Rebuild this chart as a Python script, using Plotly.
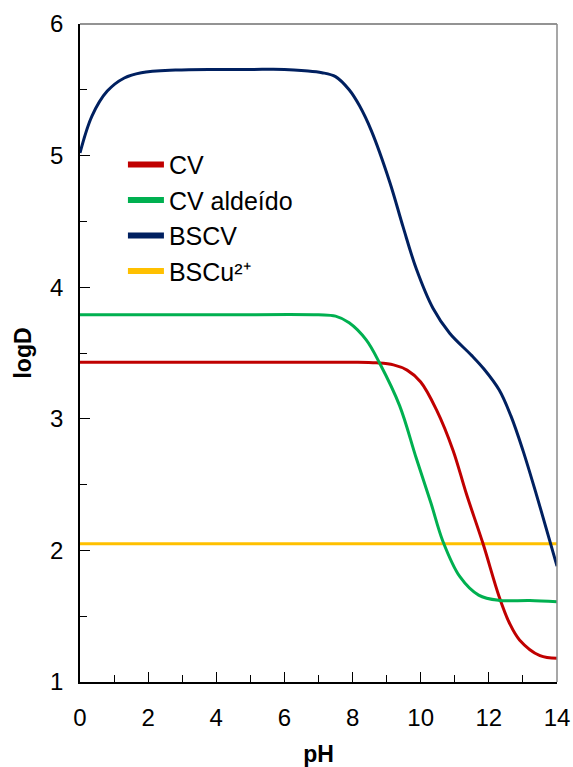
import plotly.graph_objects as go

# ---- data ----
ph_bscv = [0, 0.35, 0.8, 1.3, 1.8, 2.8, 4, 5, 6, 6.6, 7.1, 7.5, 7.9, 8.2, 8.55, 9.09, 9.48, 9.87, 10.36, 10.85, 11.5, 11.85, 12.3, 12.65, 13, 13.4, 13.78, 14]
logd_bscv = [5.02, 5.30, 5.49, 5.59, 5.63, 5.65, 5.655, 5.655, 5.655, 5.645, 5.63, 5.60, 5.50, 5.38, 5.19, 4.80, 4.46, 4.14, 3.84, 3.65, 3.48, 3.38, 3.22, 3.02, 2.76, 2.42, 2.08, 1.88]

ph_cv = [0, 4, 8, 8.7, 9.2, 9.6, 10, 10.46, 10.95, 11.34, 11.83, 12.3, 12.6, 12.9, 13.5, 14]
logd_cv = [3.43, 3.43, 3.43, 3.425, 3.41, 3.37, 3.28, 3.07, 2.76, 2.43, 2.05, 1.65, 1.45, 1.32, 1.20, 1.18]

ph_ald = [0, 4, 7, 7.5, 7.9, 8.4, 8.8, 9.38, 9.87, 10.3, 10.65, 11.15, 11.7, 12.3, 13.2, 14]
logd_ald = [3.79, 3.79, 3.79, 3.78, 3.73, 3.60, 3.42, 3.10, 2.70, 2.36, 2.07, 1.80, 1.66, 1.62, 1.62, 1.61]

ph_cu = [0, 14]
logd_cu = [2.05, 2.05]

names = ["CV", "CV aldeído", "BSCV", "BSCu²⁺"]
colors = ["#C00000", "#00B050", "#002060", "#FFC000"]

FONT = "Liberation Sans, Arial, sans-serif"

fig = go.Figure()
series = [(ph_cv, logd_cv), (ph_ald, logd_ald), (ph_bscv, logd_bscv), (ph_cu, logd_cu)]
draw_order = [3, 0, 1, 2]
for i in draw_order:
    x, y = series[i]
    fig.add_trace(go.Scatter(x=x, y=y, mode="lines", showlegend=False,
                             line=dict(color=colors[i], width=3, shape="spline", smoothing=1.0)))
# legend entries
for i, n in enumerate(names):
    fig.add_trace(go.Scatter(x=[None], y=[None], mode="lines", name=n, legendgroup=n,
                             line=dict(color=colors[i], width=6)))

fig.update_layout(
    width=573, height=767,
    margin=dict(l=80, r=16, t=24, b=85),
    plot_bgcolor="white", paper_bgcolor="white",
    font=dict(family=FONT, size=24, color="#000000"),
    legend=dict(x=0.090, y=0.821, xanchor="left", yanchor="top",
                bgcolor="rgba(0,0,0,0)", font=dict(size=25, family=FONT),
                tracegroupgap=0, itemwidth=36),
    shapes=[
        dict(type="line", xref="paper", yref="paper", x0=0, x1=1, y0=1, y1=1,
             line=dict(color="#6f6f6f", width=1.5)),
        dict(type="line", xref="paper", yref="paper", x0=1, x1=1, y0=0, y1=1,
             line=dict(color="#8a8a8a", width=1.5)),
    ],
)
fig.update_xaxes(range=[0, 14], dtick=2, tick0=0, showgrid=False, zeroline=False,
                 automargin=False,
                 showline=True, linecolor="#000000", linewidth=1.5,
                 ticks="inside", ticklen=10, tickcolor="#000000",
                 minor=dict(ticks="inside", ticklen=7, dtick=1, tickcolor="#000000"),
                 tickfont=dict(size=24, family=FONT), ticklabelstandoff=13,
                 title=dict(text="<b>pH</b>", font=dict(size=23, family=FONT), standoff=17))
fig.update_yaxes(range=[1, 6], dtick=1, tick0=1, showgrid=False, zeroline=False,
                 automargin=False,
                 showline=True, linecolor="#000000", linewidth=1.5,
                 ticks="inside", ticklen=10, tickcolor="#000000",
                 minor=dict(ticks="inside", ticklen=7, dtick=0.5, tickcolor="#000000"),
                 tickfont=dict(size=24, family=FONT), ticklabelstandoff=10,
                 title=dict(text="<b>logD</b>", font=dict(size=23, family=FONT), standoff=12))

fig.write_html("out.html", config={"displayModeBar": False},
               post_script="document.body.style.margin='0';document.body.style.overflow='hidden';")
